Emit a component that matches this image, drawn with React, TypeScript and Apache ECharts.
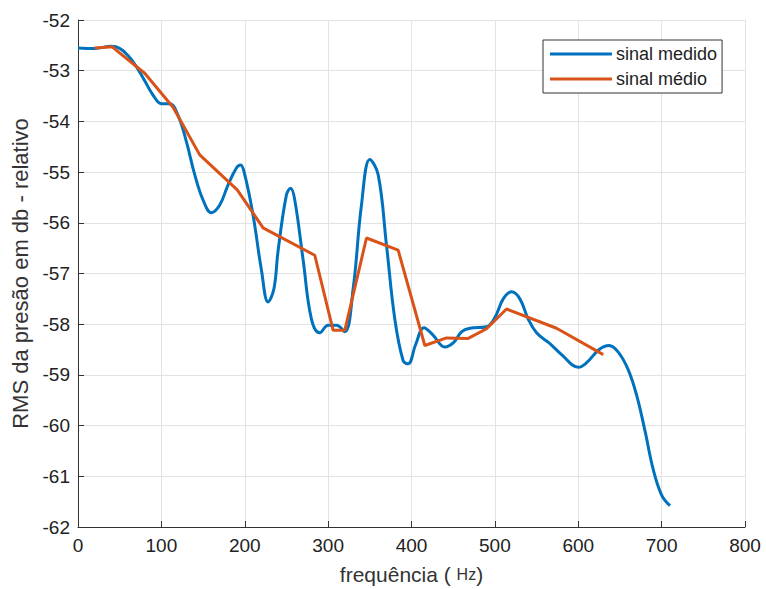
import React, { useEffect, useRef } from "react";
import * as echarts from "echarts";

const measuredFreq = [0, 20, 40, 50, 60, 70, 80, 90, 100, 110, 120, 130, 140, 150, 160, 170, 180, 190, 195, 200, 210, 220, 228, 235, 240, 250, 255, 260, 270, 280, 290, 300, 310, 320, 330, 340, 350, 360, 370, 380, 390, 396, 405, 415, 425, 440, 450, 460, 470, 490, 500, 510, 520, 530, 540, 550, 565, 580, 600, 610, 625, 637, 648, 660, 670, 680, 690, 700, 710];
const measuredDb = [-52.55, -52.56, -52.52, -52.56, -52.7, -52.92, -53.2, -53.48, -53.65, -53.65, -53.88, -54.4, -55.05, -55.55, -55.8, -55.65, -55.25, -54.92, -54.86, -55.05, -55.85, -56.93, -57.56, -57.3, -56.55, -55.45, -55.32, -55.55, -56.73, -57.9, -58.17, -58.02, -58.02, -58.15, -57.3, -55.65, -54.75, -55.05, -56.44, -57.9, -58.72, -58.78, -58.4, -58.07, -58.2, -58.45, -58.37, -58.15, -58.08, -58.05, -57.87, -57.5, -57.36, -57.5, -57.9, -58.17, -58.37, -58.6, -58.85, -58.76, -58.5, -58.42, -58.55, -58.9, -59.4, -60.1, -60.87, -61.37, -61.58];

const meanFreq = [20, 41, 80, 114, 146, 191, 222, 284, 306, 320, 346, 384, 416, 442, 468, 490, 514, 574, 630];
const meanDb = [-52.55, -52.53, -53.05, -53.72, -54.66, -55.35, -56.1, -56.64, -58.12, -58.12, -56.3, -56.54, -58.42, -58.27, -58.28, -58.09, -57.7, -58.08, -58.6];

const xTicks = [0, 800, 100];
const yTicks = [-62, -52, 1];

const seriesNames = ["sinal medido", "sinal médio"];

export default function App() {
  const ref = useRef<HTMLDivElement>(null);
  useEffect(() => {
    if (!ref.current) return;
    const chart = echarts.init(ref.current, null, { renderer: "svg" });
    const font = "'Liberation Sans', Arial, sans-serif";
    chart.setOption({
      animation: false,
      backgroundColor: "#ffffff",
      textStyle: { fontFamily: font },
      grid: { left: 78, right: 21, top: 20, bottom: 62, containLabel: false, outerBoundsMode: "none", show: false },
      legend: {
        orient: "vertical",
        left: 543,
        top: 40,
        padding: [5, 5, 5, 7],
        itemGap: 7,
        itemWidth: 62,
        itemHeight: 3,
        icon: "rect",
        borderColor: "#333333",
        borderWidth: 1,
        backgroundColor: "#ffffff",
        textStyle: { fontSize: 18, color: "#222", fontFamily: font, padding: [0, 0, 0, -1] },
        data: seriesNames,
      },
      xAxis: {
        type: "value",
        min: xTicks[0],
        max: xTicks[1],
        interval: xTicks[2],
        name: "frequência ( {s|Hz})",
        nameLocation: "middle",
        nameGap: 36,
        nameTextStyle: {
          fontSize: 21,
          lineHeight: 22,
          color: "#333",
          fontFamily: font,
          rich: { s: { fontSize: 16, lineHeight: 22, color: "#333", fontFamily: font } },
        },
        axisLine: { show: true, lineStyle: { color: "#333", width: 1 } },
        axisTick: { show: true, inside: true, length: 6, lineStyle: { color: "#333" } },
        axisLabel: { fontSize: 19, color: "#222", margin: 9, fontFamily: font },
        splitLine: { show: true, lineStyle: { color: "#e3e3e3", width: 1 } },
      },
      yAxis: {
        type: "value",
        min: yTicks[0],
        max: yTicks[1],
        interval: yTicks[2],
        name: "RMS da presão em db - relativo",
        nameLocation: "middle",
        nameGap: 46,
        nameRotate: 90,
        nameTextStyle: { fontSize: 22, color: "#333", fontFamily: font },
        axisLine: { show: true, onZero: false, lineStyle: { color: "#333", width: 1 } },
        axisTick: { show: true, inside: true, length: 6, lineStyle: { color: "#333" } },
        axisLabel: { fontSize: 19, color: "#222", margin: 8, fontFamily: font },
        splitLine: { show: true, lineStyle: { color: "#e3e3e3", width: 1 } },
      },
      series: [
        {
          name: seriesNames[0],
          type: "line",
          data: measuredFreq.map((f, i) => [f, measuredDb[i]]),
          smooth: 0.4,
          showSymbol: false,
          lineStyle: { color: "#0072BD", width: 3 },
          itemStyle: { color: "#0072BD" },
          z: 2,
        },
        {
          name: seriesNames[1],
          type: "line",
          data: meanFreq.map((f, i) => [f, meanDb[i]]),
          smooth: false,
          showSymbol: false,
          lineStyle: { color: "#D95319", width: 3 },
          itemStyle: { color: "#D95319" },
          z: 3,
        },
      ],
    });
    return () => chart.dispose();
  }, []);
  return <div ref={ref} style={{ width: 766, height: 589, position: "absolute", left: 0, top: 0 }} />;
}
